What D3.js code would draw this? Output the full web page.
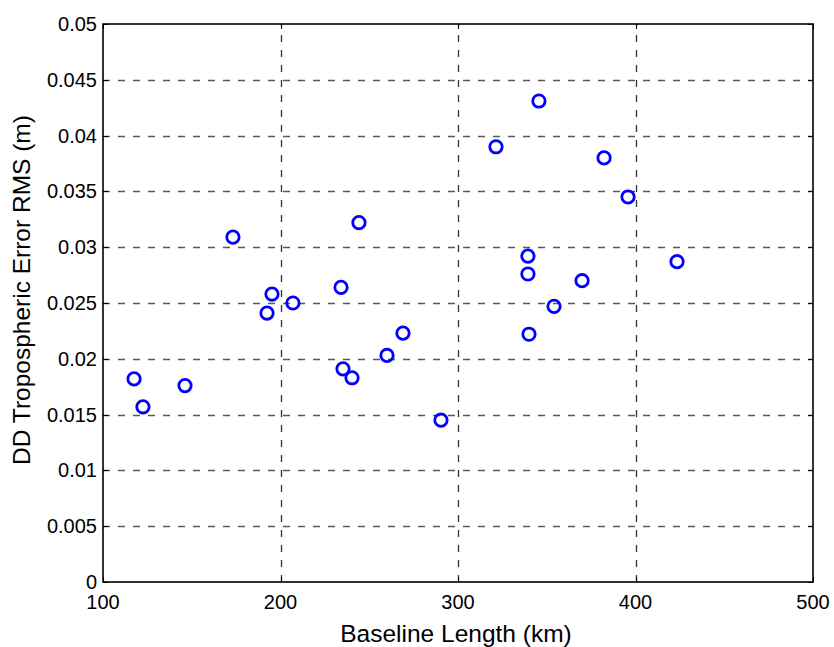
<!DOCTYPE html>
<html>
<head>
<meta charset="utf-8">
<script src="https://cdn.jsdelivr.net/npm/d3@7/dist/d3.min.js"></script>
<style>
  html, body { margin: 0; padding: 0; background: #fff; }
  svg { display: block; font-family: "Liberation Sans", Arial, Helvetica, sans-serif; }
</style>
</head>
<body>
<svg id="chart" width="834" height="647"></svg>
<script>
// Baseline length (km) and DD tropospheric error RMS (m) per baseline
const baselineKm = [117.5, 122.5, 146.2, 173.2, 192.4, 195.2, 207.0, 234.1, 235.2, 240.3,
  244.2, 260.0, 269.0, 290.4, 321.4, 345.6, 339.4, 339.4, 340.0, 354.1, 369.9, 382.3, 395.8, 423.4];
const rmsErr = [0.0182, 0.0157, 0.0176, 0.0309, 0.0241, 0.0258, 0.0250, 0.0264, 0.0191, 0.0183,
  0.0322, 0.0203, 0.0223, 0.0145, 0.0390, 0.0431, 0.0292, 0.0276, 0.0222, 0.0247, 0.0270, 0.0380, 0.0345, 0.0287];

const xTicks = [100, 200, 300, 400, 500];
const yTicks = [0, 0.005, 0.01, 0.015, 0.02, 0.025, 0.03, 0.035, 0.04, 0.045, 0.05];
const yTickLabels = ["0", "0.005", "0.01", "0.015", "0.02", "0.025", "0.03", "0.035", "0.04", "0.045", "0.05"];

const W = 834, H = 647;
const margin = { left: 103, top: 24, right: 21, bottom: 65 };
const svg = d3.select("#chart");

const x = d3.scaleLinear().domain([100, 500]).range([margin.left, W - margin.right]);
const y = d3.scaleLinear().domain([0, 0.05]).range([H - margin.bottom, margin.top]);

const x0 = x.range()[0], x1 = x.range()[1];
const y0 = y.range()[0], y1 = y.range()[1];

// dashed grid
const grid = svg.append("g").attr("fill", "none").attr("stroke-dasharray", "7,8");
grid.selectAll("line.h").data(yTicks.slice(1, -1)).join("line")
  .attr("class", "h")
  .attr("x1", x0).attr("x2", x1)
  .attr("y1", d => Math.round(y(d)) + 0.5).attr("y2", d => Math.round(y(d)) + 0.5)
  .attr("stroke", "#5a5a5a").attr("stroke-width", 1.3);
grid.selectAll("line.v").data(xTicks.slice(1, -1)).join("line")
  .attr("class", "v")
  .attr("y1", y0).attr("y2", y1)
  .attr("x1", d => Math.round(x(d)) + 0.5).attr("x2", d => Math.round(x(d)) + 0.5)
  .attr("stroke", "#333").attr("stroke-width", 1.3);

// inward tick marks on all four sides
const tickLen = 5;
const ticks = svg.append("g").attr("stroke", "#000").attr("stroke-width", 1);
xTicks.forEach(t => {
  const px = Math.round(x(t)) + 0.5;
  ticks.append("line").attr("x1", px).attr("x2", px).attr("y1", y0).attr("y2", y0 - tickLen);
  ticks.append("line").attr("x1", px).attr("x2", px).attr("y1", y1).attr("y2", y1 + tickLen);
});
yTicks.forEach(t => {
  const py = Math.round(y(t)) + 0.5;
  ticks.append("line").attr("x1", x0).attr("x2", x0 + tickLen).attr("y1", py).attr("y2", py);
  ticks.append("line").attr("x1", x1).attr("x2", x1 - tickLen).attr("y1", py).attr("y2", py);
});

// axes box
svg.append("rect")
  .attr("x", x0).attr("y", y1)
  .attr("width", x1 - x0).attr("height", y0 - y1)
  .attr("fill", "none").attr("stroke", "#000").attr("stroke-width", 1.6);

// tick labels
svg.append("g").selectAll("text").data(xTicks).join("text")
  .attr("x", d => x(d)).attr("y", 609)
  .attr("text-anchor", "middle").attr("font-size", 20).attr("fill", "#000")
  .text(d => d);
svg.append("g").selectAll("text").data(yTicks).join("text")
  .attr("x", 97).attr("y", d => y(d) + 7)
  .attr("text-anchor", "end").attr("font-size", 20).attr("fill", "#000")
  .text((d, i) => yTickLabels[i]);

// axis titles
svg.append("text")
  .attr("x", 456).attr("y", 642)
  .attr("text-anchor", "middle").attr("font-size", 24.5).attr("fill", "#000")
  .text("Baseline Length (km)");
svg.append("text")
  .attr("transform", "translate(30,290) rotate(-90)")
  .attr("text-anchor", "middle").attr("font-size", 24.5).attr("fill", "#000")
  .text("DD Tropospheric Error RMS (m)");

// data markers
svg.append("g").selectAll("circle").data(baselineKm).join("circle")
  .attr("cx", d => x(d))
  .attr("cy", (d, i) => y(rmsErr[i]))
  .attr("r", 6.2)
  .attr("fill", "none").attr("stroke", "#0000ff").attr("stroke-width", 2.8);
</script>
</body>
</html>
